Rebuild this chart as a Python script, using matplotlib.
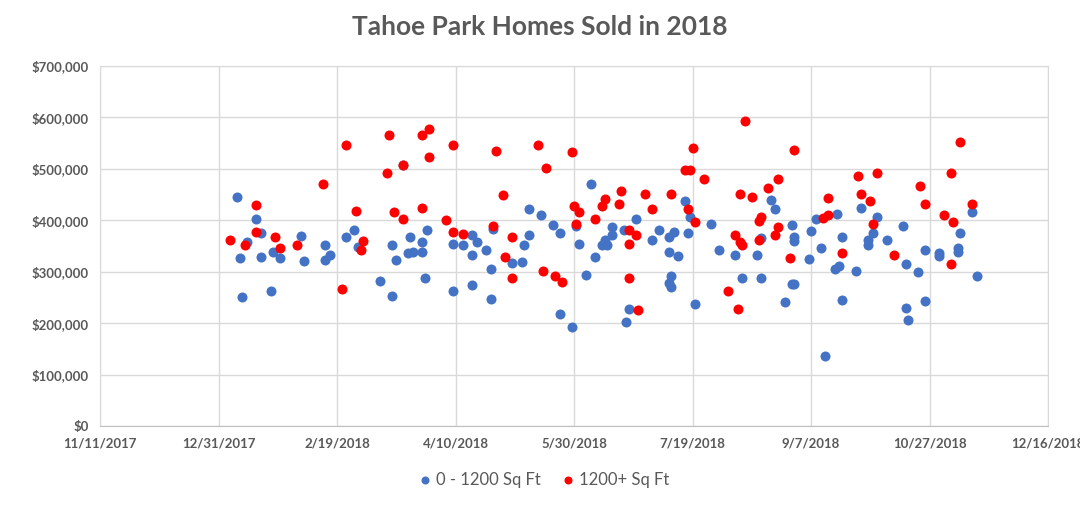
import numpy as np
import pandas as pd
import matplotlib
matplotlib.use('Agg')
import matplotlib.pyplot as plt
from matplotlib.ticker import FuncFormatter, MultipleLocator

plt.rcParams['font.family'] = ['Lato', 'DejaVu Sans']

# day of year 2018 (1 = Jan 1) and sale price in $k
small_day = [8, 9, 10, 12, 16, 18, 18, 22, 23, 26, 35, 36, 45, 45, 47, 54,
             57, 59, 68, 73, 73, 75, 78, 80, 81, 82, 86, 86, 87, 88, 99, 99, 103, 107, 107, 107,
             109, 113, 115, 115, 116, 124, 128, 129, 131, 131, 136, 141, 144, 144, 149, 151, 152, 155, 157, 159,
             166, 166, 163, 162, 164, 171, 173, 172, 176, 183, 186, 190, 192, 190, 194, 191, 190, 191,
             197, 199, 198, 201, 208, 211,
             218, 221, 227, 229, 229, 233, 235, 242, 243, 243, 242, 243, 239, 249, 250, 254, 252, 256,
             261, 263, 260, 262, 263,
             269, 271, 278, 276, 274, 274, 282, 289, 290, 295, 290, 291, 298, 298, 304, 304, 312, 312,
             313, 318, 320]
small_price = [446, 326, 250, 357, 402, 376, 329, 262, 339, 326, 369, 320, 351, 323, 332, 367,
               382, 348, 281, 351, 252, 322, 507, 336, 367, 339, 357, 339, 287, 382, 354, 262, 351, 332, 372, 275,
               357, 343, 306, 247, 384, 316, 318, 351, 371, 421, 411, 391, 376, 218, 192, 388, 353, 293, 471, 328,
               386, 371, 361, 351, 351, 382, 227, 202, 402, 361, 382, 367, 378, 338, 331, 291, 278, 270,
               437, 406, 376, 237, 392, 342,
               332, 287, 332, 287, 365, 440, 421, 390, 367, 359, 276, 276, 242, 324, 380, 347, 402, 136,
               413, 367, 306, 311, 245,
               301, 423, 406, 376, 361, 351, 361, 388, 315, 299, 229, 206, 342, 243, 336, 330, 347, 338,
               375, 417, 291]

large_day = [5, 11, 16, 16, 24, 26, 33, 44, 52, 54, 58, 61, 60, 71, 72, 74, 78, 78, 86, 89, 86, 89,
             96, 99, 99, 103, 116, 117, 120, 121, 124, 124, 135, 138, 137, 142, 145, 149, 150, 152, 151,
             159, 163, 162, 170, 169, 173, 176, 173, 173, 177, 180, 183, 191, 198, 197, 199, 200, 201, 205,
             215, 219, 218, 220, 221, 228, 228, 229, 232, 236, 236, 235, 241, 243, 222, 220, 225,
             257, 255, 257, 263, 270, 278, 271, 275, 276, 285, 296, 298, 306, 309, 310, 309, 313, 318]
large_price = [361, 351, 430, 378, 367, 347, 351, 471, 266, 547, 419, 359, 342, 491, 566, 417, 508, 402, 566, 577, 423, 523,
               400, 547, 377, 373, 389, 535, 450, 328, 367, 287, 547, 502, 302, 291, 280, 532, 427, 416, 392,
               402, 441, 427, 456, 431, 382, 371, 353, 287, 225, 452, 421, 452, 421, 497, 497, 541, 396, 481,
               262, 227, 371, 357, 351, 361, 398, 406, 462, 481, 386, 371, 326, 537, 594, 452, 446,
               444, 404, 411, 336, 487, 491, 452, 437, 392, 332, 466, 431, 411, 491, 396, 315, 553, 431]

base = pd.Timestamp('2017-12-31')
small_dates = base + pd.to_timedelta(small_day, unit='D')
large_dates = base + pd.to_timedelta(large_day, unit='D')

gray = '#595959'
fig = plt.figure(figsize=(10.8, 5.05), dpi=100)
ax = fig.add_axes([0.0926, 0.1564, 0.8778, 0.7129])

ax.scatter(small_dates, np.array(small_price) * 1000, s=52, color='#4472C4', label='0 - 1200 Sq Ft', zorder=3, linewidths=0)
ax.scatter(large_dates, np.array(large_price) * 1000, s=52, color='#FF0000', label='1200+ Sq Ft', zorder=4, linewidths=0)

ticks = pd.date_range('2017-11-11', periods=9, freq='50D')
ax.set_xlim(ticks[0], ticks[-1])
ax.set_xticks(ticks)
ax.set_xticklabels([f'{d.month}/{d.day}/{d.year}' for d in ticks])
ax.set_ylim(0, 700000)
ax.yaxis.set_major_locator(MultipleLocator(100000))
ax.yaxis.set_major_formatter(FuncFormatter(lambda v, p: f'${v:,.0f}'))

ax.grid(True, color='#D9D9D9', linewidth=1)
ax.set_axisbelow(True)
for s in ax.spines.values():
    s.set_color('#D9D9D9')
ax.spines['bottom'].set_color('#BFBFBF')
ax.tick_params(length=0, labelsize=9.5, labelcolor=gray, pad=8)
for lab in ax.get_xticklabels() + ax.get_yticklabels():
    lab.set_fontweight('bold')

fig.suptitle('Tahoe Park Homes Sold in 2018', y=0.946, va='center', fontsize=19, fontweight='bold', color=gray)
ax.legend(loc='upper center', bbox_to_anchor=(0.468, -0.085), ncol=2, frameon=False,
          fontsize=12, labelcolor=gray, handlelength=0.8, handletextpad=0.3,
          columnspacing=1.2, markerscale=0.8)

plt.savefig('out.png', dpi=100)
